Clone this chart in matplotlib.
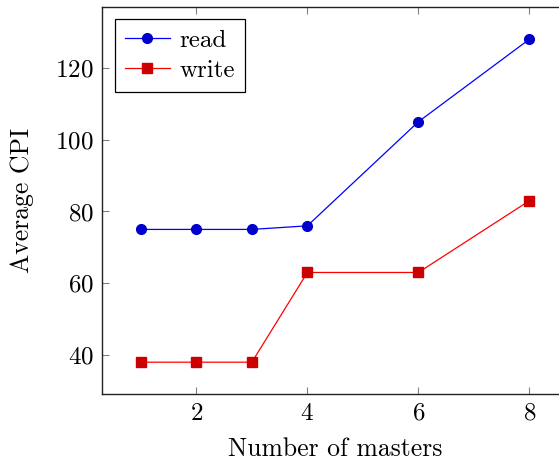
import matplotlib
matplotlib.use("Agg")
import matplotlib.pyplot as plt

plt.rcParams['font.family'] = 'serif'
plt.rcParams['font.serif'] = ['cmr10']
plt.rcParams['mathtext.fontset'] = 'cm'
plt.rcParams['axes.formatter.use_mathtext'] = True

masters = [1, 2, 3, 4, 6, 8]
read_cpi = [75, 75, 75, 76, 105, 128]
write_cpi = [38, 38, 38, 63, 63, 83]

fig = plt.figure(figsize=(5.59, 4.63), dpi=100)
ax = fig.add_axes([0.1825, 0.148, 0.834, 0.837])

ax.plot(masters, read_cpi, color='blue', lw=0.9, marker='o', ms=7,
        mfc='#0000cc', mec='#0000cc', label='read')
ax.plot(masters, write_cpi, color='red', lw=0.9, marker='s', ms=6.5,
        mfc='#cc0000', mec='#cc0000', label='write')

ax.set_xlim(0.3, 8.7)
ax.set_ylim(29, 137)
ax.set_xticks([2, 4, 6, 8])
ax.set_yticks([40, 60, 80, 100, 120])
ax.tick_params(direction='in', top=True, right=True, length=5, width=0.8,
               color='#808080', labelsize=18, pad=6)
for s in ax.spines.values():
    s.set_linewidth(1.0)
    s.set_color('#222222')

ax.set_xlabel('Number of masters', fontsize=18.5, labelpad=9)
ax.set_ylabel('Average CPI', fontsize=18.5, labelpad=15)

leg = ax.legend(loc='upper left', fontsize=18, fancybox=False, framealpha=1,
                edgecolor='black', borderaxespad=0.5, handlelength=1.8,
                handletextpad=0.4, labelspacing=0.3, borderpad=0.4)
leg.get_frame().set_linewidth(0.9)

fig.savefig('out.png', dpi=100)
